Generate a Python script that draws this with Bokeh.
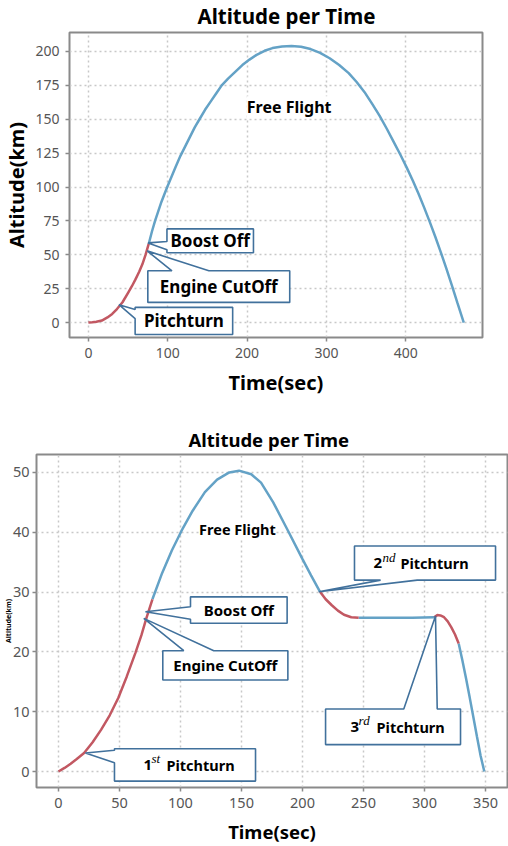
from bokeh.plotting import figure
from bokeh.models import FixedTicker, Label, Range1d
from bokeh.embed import file_html
from bokeh.resources import INLINE
from bokeh.core.properties import value

# ---------------- data: top chart (single pitch turn) ----------------
top_boost_t = [0, 5, 10, 17, 24, 30, 36, 43, 50, 55, 59, 64, 68, 72, 76]
top_boost_alt = [0, 0.2, 0.6, 1.5, 3.8, 6.4, 10, 15, 22, 27, 31.5, 37.5, 43, 50, 58]
top_free_t = [76, 80, 84, 88, 92, 96, 100, 105, 110, 116, 122, 128, 134, 140, 147, 154, 161, 168,
              176, 185, 194, 203, 212, 222, 232, 244, 256,
              268, 280, 292, 304, 316, 328, 338, 348, 358, 367, 376, 385, 393, 401, 409, 416,
              423, 430, 437, 444, 451, 458, 465, 473]
top_free_alt = [58, 67, 75, 82, 89, 95, 101, 108, 115, 123, 130, 137, 144, 150, 157, 163, 169, 175,
                180, 185, 190, 194, 197.5, 200.5, 202.5, 203.7, 204,
                203.5, 201.8, 199, 195, 190, 184, 177.5, 170, 161, 152.5, 143, 133, 124, 114.5, 104.5, 95,
                85, 74.5, 63.5, 52, 40, 27.5, 14.5, 0]
top_xticks = [0, 100, 200, 300, 400]
top_yticks = [0, 25, 50, 75, 100, 125, 150, 175, 200]

# ---------------- data: bottom chart (three pitch turns) ----------------
bot_boost_t = [0, 5, 10, 15, 21, 28, 35, 42, 49, 56, 63, 68, 72, 77]
bot_boost_alt = [0, 0.6, 1.3, 2.1, 3.1, 4.9, 7.0, 9.4, 12.3, 15.9, 19.8, 22.8, 25.6, 28.8]
bot_free1_t = [77, 85, 93, 101, 110, 120, 130, 140, 148, 158, 166, 176, 188, 200, 207, 214.5]
bot_free1_alt = [28.8, 33.2, 37, 40.3, 43.6, 46.7, 48.8, 50.0, 50.3, 49.7, 48.3, 45, 40.3, 35.5, 32.8, 30]
bot_turn2_t = [214.5, 219, 224, 229, 234, 240, 246]
bot_turn2_alt = [30, 28.8, 27.8, 26.9, 26.2, 25.8, 25.7]
bot_cruise_t = [246, 270, 290, 308]
bot_cruise_alt = [25.7, 25.7, 25.7, 25.8]
bot_turn3_t = [308, 310.5, 313, 316, 319, 322, 325, 328]
bot_turn3_alt = [25.8, 26.15, 26.1, 25.8, 25.1, 24.1, 22.9, 21.4]
bot_free2_t = [328, 331, 334, 337, 340, 343, 346, 349]
bot_free2_alt = [21.4, 18.6, 15.6, 12.4, 9.1, 5.8, 2.6, 0]
bot_xticks = [0, 50, 100, 150, 200, 250, 300, 350]
bot_yticks = [0, 10, 20, 30, 40, 50]

# ---------------- callouts (box x0,x1,y0,y1 ; tip ; wedge side ; wedge base) ----------------
top_callouts = [
    dict(text="Boost Off", box=(99, 208, 51.5, 69.1), tip=(75.2, 58.8), side="left", base=(53.7, 59.8)),
    dict(text="Engine CutOff", box=(74.9, 253.7, 14.9, 38.2), tip=(74, 52.9), side="top", base=(105.3, 151.8)),
    dict(text="Pitchturn", box=(58.9, 181.8, -8.8, 11.25), tip=(38.5, 13.2), side="left", base=(2.9, 9.6)),
]
bot_callouts = [
    dict(text="Boost Off", box=(108.2, 187.4, 24.8, 29.2), tip=(71.3, 26.7), side="left", base=(25.45, 27.55)),
    dict(text="Engine CutOff", box=(85.5, 188, 15.3, 20.2), tip=(69.9, 25.6), side="top", base=(102.7, 127.3)),
]
bot_sup_callouts = [
    dict(num="2", sup="nd", box=(242.6, 358.2, 32, 37.7), tip=(213.4, 30.05), side="bottom", base=(264, 294),
         offs=(19, 28, 46)),
    dict(num="3", sup="rd", box=(218.9, 329.5, 4.5, 10.45), tip=(309, 26), side="top", base=(283, 310.4),
         offs=(25, 33, 51)),
    dict(num="1", sup="st", box=(45.9, 161.5, -1.6, 3.8), tip=(22.1, 3.1), side="left", base=(1.45, 3.55),
         offs=(29, 37, 52)),
]

FONT = "Noto Sans"
BLUE = "#64a2c6"
RED = "#c25862"
BORDER = "#41719c"


def callout_poly(box, tip, side, base):
    x0, x1, y0, y1 = box
    tx, ty = tip
    b0, b1 = min(base), max(base)
    if side == "left":
        return [x0, x1, x1, x0, x0, tx, x0], [y1, y1, y0, y0, b0, ty, b1]
    if side == "top":
        return [x0, b0, tx, b1, x1, x1, x0], [y1, y1, ty, y1, y1, y0, y0]
    return [x0, x1, x1, b1, tx, b0, x0], [y1, y1, y0, y0, ty, y0, y0]


def style(p, xticks, yticks, tick_size):
    p.outline_line_color = "#8a8a8a"
    p.outline_line_width = 2
    p.background_fill_color = "white"
    p.border_fill_color = "white"
    p.title.text_color = "black"
    p.title.text_font = FONT
    p.title.text_font_style = "bold"
    p.title.align = "left"
    p.title.vertical_align = "top"
    p.title.standoff = 2
    for ax in (p.xaxis[0], p.yaxis[0]):
        ax.axis_line_color = None
        ax.major_tick_out = 4
        ax.major_tick_in = 0
        ax.major_tick_line_color = "#8a8a8a"
        ax.major_tick_line_width = 1.5
        ax.minor_tick_line_color = None
        ax.major_label_text_color = "#555555"
        ax.major_label_text_font = FONT
        ax.major_label_text_font_size = tick_size
        ax.major_label_standoff = 6
        ax.axis_label_text_font = FONT
        ax.axis_label_text_font_style = "bold"
        ax.axis_label_text_color = "black"
    p.xaxis[0].ticker = FixedTicker(ticks=xticks)
    p.yaxis[0].ticker = FixedTicker(ticks=yticks)
    for g in (p.xgrid[0], p.ygrid[0]):
        g.grid_line_color = "#c8c8c8"
        g.grid_line_dash = "2 3"
        g.grid_line_width = 1.5


def add_callouts(p, callouts, size):
    xs, ys = [], []
    for c in callouts:
        px, py = callout_poly(c["box"], c["tip"], c["side"], c["base"])
        xs.append(px)
        ys.append(py)
    p.patches(xs, ys, fill_color="white", line_color=BORDER, line_width=1.6)
    plain = [c for c in callouts if "text" in c]
    if plain:
        p.text(x=[(c["box"][0] + c["box"][1]) / 2 for c in plain],
               y=[(c["box"][2] + c["box"][3]) / 2 for c in plain],
               text=[c["text"] for c in plain],
               text_font=value(FONT), text_font_style="bold", text_font_size=size,
               text_align="center", text_baseline="middle", text_color="black")


# ================= top figure =================
p1 = figure(width=508, height=405, output_backend="svg", toolbar_location=None,
            x_range=Range1d(-23.8, 496.6), y_range=Range1d(-11.0, 214.0),
            min_border_left=67, min_border_right=26, min_border_top=31, min_border_bottom=68)
p1.title.text = "Altitude per Time"
style(p1, top_xticks, top_yticks, "14px")
p1.title.offset = 128
p1.title.text_font_size = "20.5px"
p1.xaxis.axis_label = "Time(sec)"
p1.yaxis.axis_label = "Altitude(km)"
p1.xaxis.axis_label_text_font_size = "20px"
p1.yaxis.axis_label_text_font_size = "20px"
p1.xaxis.axis_label_standoff = 8
p1.yaxis.axis_label_standoff = 2

p1.line(top_free_t, top_free_alt, line_color=BLUE, line_width=2.5)
p1.line(top_boost_t, top_boost_alt, line_color=RED, line_width=2.5)
add_callouts(p1, top_callouts, "17px")
p1.add_layout(Label(x=253, y=158.8, text="Free Flight", text_font=FONT, text_font_style="bold",
                    text_font_size="16px", text_align="center", text_baseline="middle",
                    text_color="black", background_fill_color="white"))

# ================= bottom figure =================
p2 = figure(width=508, height=441, output_backend="svg", toolbar_location=None,
            x_range=Range1d(-18.0, 368.0), y_range=Range1d(-2.67, 53.0),
            min_border_left=36, min_border_right=1, min_border_top=49, min_border_bottom=58)
p2.title.text = "Altitude per Time"
style(p2, bot_xticks, bot_yticks, "14.5px")
p2.title.offset = 152
p2.title.text_font_size = "18.5px"
p2.xaxis.axis_label = "Time(sec)"
p2.xaxis.axis_label_text_font_size = "18.5px"
p2.xaxis.axis_label_standoff = 8
# y-axis title: only a narrow strip at the left edge is available, as in the source picture
p2.yaxis.axis_label = "Altitude(km)"
p2.yaxis.axis_label_text_font_size = "7px"
p2.yaxis.axis_label_standoff = -3
p2.yaxis.major_label_standoff = 3

p2.line(bot_free1_t, bot_free1_alt, line_color=BLUE, line_width=2.5)
p2.line(bot_cruise_t, bot_cruise_alt, line_color=BLUE, line_width=2.5)
p2.line(bot_free2_t, bot_free2_alt, line_color=BLUE, line_width=2.5)
p2.line(bot_boost_t, bot_boost_alt, line_color=RED, line_width=2.5)
p2.line(bot_turn2_t, bot_turn2_alt, line_color=RED, line_width=2.5)
p2.line(bot_turn3_t, bot_turn3_alt, line_color=RED, line_width=2.5)
add_callouts(p2, bot_callouts + bot_sup_callouts, "15px")

# superscripted callout texts
ymid = [(c["box"][2] + c["box"][3]) / 2 for c in bot_sup_callouts]
x0s = [c["box"][0] for c in bot_sup_callouts]
p2.text(x=x0s, y=ymid, text=[c["num"] for c in bot_sup_callouts],
        x_offset=[c["offs"][0] for c in bot_sup_callouts],
        text_font=value(FONT), text_font_style="bold", text_font_size="15px",
        text_align="left", text_baseline="middle", text_color="black")
p2.text(x=x0s, y=ymid, text=[c["sup"] for c in bot_sup_callouts],
        x_offset=[c["offs"][1] for c in bot_sup_callouts], y_offset=-6,
        text_font=value("Liberation Serif"), text_font_style="italic", text_font_size="13px",
        text_align="left", text_baseline="middle", text_color="black")
p2.text(x=x0s, y=ymid, text=["Pitchturn"] * len(bot_sup_callouts),
        x_offset=[c["offs"][2] for c in bot_sup_callouts],
        text_font=value(FONT), text_font_style="bold", text_font_size="14.5px",
        text_align="left", text_baseline="middle", text_color="black")

p2.add_layout(Label(x=146.7, y=40.5, text="Free Flight", text_font=FONT, text_font_style="bold",
                    text_font_size="14.5px", text_align="center", text_baseline="middle",
                    text_color="black", background_fill_color="white"))

open("out.html", "w").write(file_html([p1, p2], INLINE))
